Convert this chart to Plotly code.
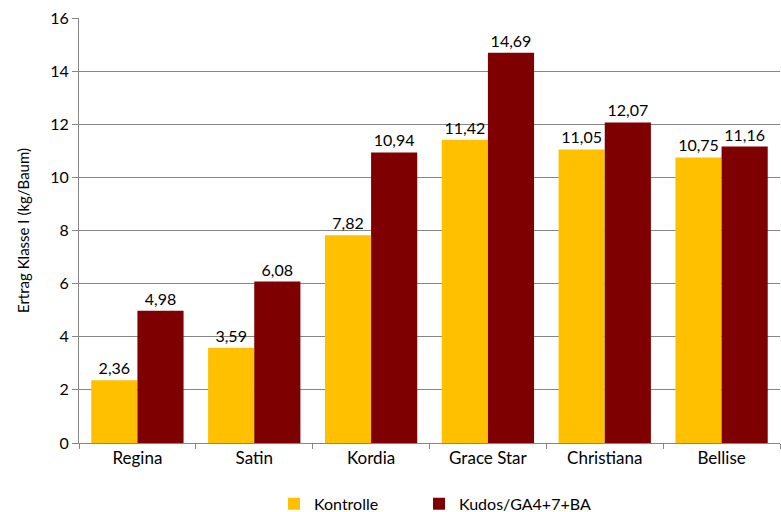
import plotly.graph_objects as go

categories = ["Regina", "Satin", "Kordia", "Grace Star", "Christiana", "Bellise"]
kontrolle = [2.36, 3.59, 7.82, 11.42, 11.05, 10.75]
kudos = [4.98, 6.08, 10.94, 14.69, 12.07, 11.16]
series_names = ["Kontrolle", "Kudos/GA4+7+BA"]
y_ticks = [0, 2, 4, 6, 8, 10, 12, 14, 16]

FONT = "Lato, Carlito, 'Open Sans', sans-serif"

fig = go.Figure()
fig.add_trace(go.Bar(
    x=categories, y=kontrolle, name=series_names[0], legend="legend",
    marker=dict(color="#FFC000", line=dict(width=0)),
    texttemplate="%{y:.2f}", textposition="outside", cliponaxis=False,
    textfont=dict(size=16, color="#000000", family=FONT),
))
fig.add_trace(go.Bar(
    x=categories, y=kudos, name=series_names[1], legend="legend2",
    marker=dict(color="#7F0000", line=dict(width=0)),
    texttemplate="%{y:.2f}", textposition="outside", cliponaxis=False,
    textfont=dict(size=16, color="#000000", family=FONT),
))

leg_common = dict(orientation="h", xanchor="left", xref="container",
                  yref="container", y=0.016, yanchor="middle",
                  font=dict(size=16), itemwidth=30, bgcolor="rgba(0,0,0,0)")

fig.update_layout(
    width=781, height=512,
    margin=dict(l=79, r=1, t=18, b=69, autoexpand=False),
    paper_bgcolor="white", plot_bgcolor="white",
    separators=",.",
    barmode="group", bargap=0.21, bargroupgap=0,
    font=dict(family=FONT, size=16, color="#000000"),
    showlegend=True,
    legend=dict(x=274 / 781, **leg_common),
    legend2=dict(x=419 / 781, **leg_common),
    xaxis=dict(
        showline=True, linecolor="#868686", linewidth=1,
        ticks="outside", tickson="boundaries", ticklen=5, tickcolor="#868686",
        tickfont=dict(size=17), showgrid=False,
    ),
    yaxis=dict(
        range=[0, 16], tickvals=y_ticks, showline=True, linecolor="#868686", linewidth=1,
        ticks="outside", ticklen=6, tickcolor="#868686",
        showgrid=True, gridcolor="#868686", gridwidth=1,
        tickfont=dict(size=16), zeroline=False,
        title=dict(text="Ertrag Klasse I (kg/Baum)", font=dict(size=15), standoff=16),
    ),
)

fig.write_html("out.html")
